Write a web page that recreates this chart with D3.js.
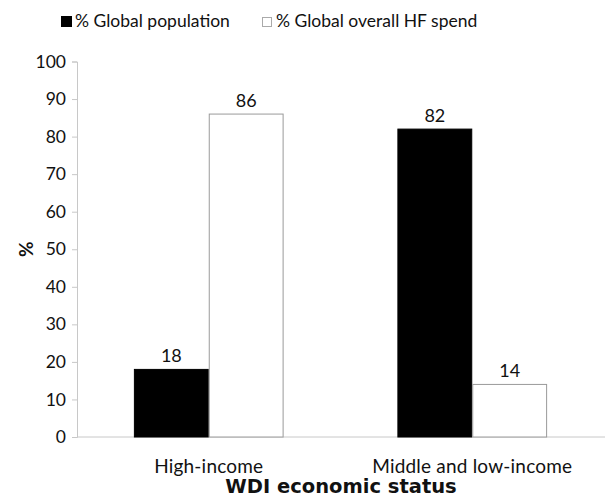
<!DOCTYPE html>
<html>
<head>
<meta charset="utf-8">
<script src="https://cdn.jsdelivr.net/npm/d3@7"></script>
<style>
  body { margin: 0; background: #fff; }
  text { font-family: Lato, "Open Sans", sans-serif; fill: #111; }
</style>
</head>
<body>
<svg id="chart" width="605" height="499"></svg>
<script>
// Share of global population vs. share of global heart-failure spend, by WDI income group
const categories = ["High-income", "Middle and low-income"];
const seriesNames = ["% Global population", "% Global overall HF spend"];
const populationShare = [18, 82];
const hfSpendShare = [86, 14];
const yTicks = [0, 10, 20, 30, 40, 50, 60, 70, 80, 90, 100];

const series = [
  { name: seriesNames[0], values: populationShare, fill: "#000", stroke: "#000" },
  { name: seriesNames[1], values: hfSpendShare, fill: "#fff", stroke: "#9a9a9a" }
];

const svg = d3.select("#chart");
const margin = { left: 77, right: 1, top: 61.5, bottom: 62 };
const W = 605, H = 499;

const x = d3.scaleBand().domain(categories).range([margin.left, W - margin.right]).padding(0);
const inner = d3.scaleBand().domain(seriesNames)
  .range([0, x.bandwidth()]).paddingInner(0).paddingOuter(0.76);
const y = d3.scaleLinear().domain([0, 100]).range([H - margin.bottom, margin.top]);

// y axis
const yAxis = svg.append("g")
  .attr("transform", `translate(${margin.left},0)`)
  .call(d3.axisLeft(y).tickValues(yTicks).tickSize(5).tickPadding(6));
yAxis.selectAll("line").attr("stroke", "#c8c8c8");
yAxis.select(".domain").attr("stroke", "#c8c8c8");
yAxis.selectAll("text").style("font-size", "17.5px").attr("fill", "#111")
  .style("font-family", "Lato, sans-serif");

// x axis baseline
svg.append("line")
  .attr("x1", margin.left).attr("x2", W)
  .attr("y1", y(0)).attr("y2", y(0))
  .attr("stroke", "#c8c8c8");

// bars
const groups = svg.append("g").selectAll("g")
  .data(categories)
  .join("g")
  .attr("transform", d => `translate(${x(d)},0)`);

series.forEach(s => {
  groups.append("rect")
    .attr("x", (d, i) => inner(s.name) + 0.5)
    .attr("y", (d, i) => y(s.values[i]))
    .attr("width", inner.bandwidth() - 1)
    .attr("height", (d, i) => y(0) - y(s.values[i]))
    .attr("fill", s.fill)
    .attr("stroke", s.stroke);
  groups.append("text")
    .attr("x", inner(s.name) + inner.bandwidth() / 2)
    .attr("y", (d, i) => y(s.values[i]) - 7)
    .attr("text-anchor", "middle")
    .style("font-size", "18px")
    .text((d, i) => s.values[i]);
});

// category labels
svg.append("g").selectAll("text")
  .data(categories)
  .join("text")
  .attr("x", d => x(d) + x.bandwidth() / 2)
  .attr("y", 473)
  .attr("text-anchor", "middle")
  .style("font-size", "19px")
  .style("letter-spacing", "0.2px")
  .text(d => d);

// axis titles
svg.append("text")
  .attr("x", (margin.left + W) / 2)
  .attr("y", 493)
  .attr("text-anchor", "middle")
  .style("font-family", "'DejaVu Sans', sans-serif")
  .style("font-size", "19.5px")
  .style("font-weight", "bold")
  .text("WDI economic status");

svg.append("text")
  .attr("transform", `translate(33,${y(50)}) rotate(-90)`)
  .attr("text-anchor", "middle")
  .style("font-size", "19px")
  .style("font-weight", "bold")
  .text("%");

// legend
const legendX = [61, 262];
const legend = svg.append("g").selectAll("g")
  .data(series)
  .join("g")
  .attr("transform", (d, i) => `translate(${legendX[i]},16)`);
legend.append("rect")
  .attr("x", (d, i) => i === 0 ? 0 : 0.5)
  .attr("y", (d, i) => i === 0 ? 0 : 1.5)
  .attr("width", (d, i) => i === 0 ? 11 : 9)
  .attr("height", (d, i) => i === 0 ? 11 : 9)
  .attr("fill", d => d.fill)
  .attr("stroke", (d, i) => i === 0 ? "none" : "#aaa");
legend.append("text")
  .attr("x", 14)
  .attr("y", 10.5)
  .style("font-size", "17.5px")
  .text(d => d.name);
</script>
</body>
</html>
